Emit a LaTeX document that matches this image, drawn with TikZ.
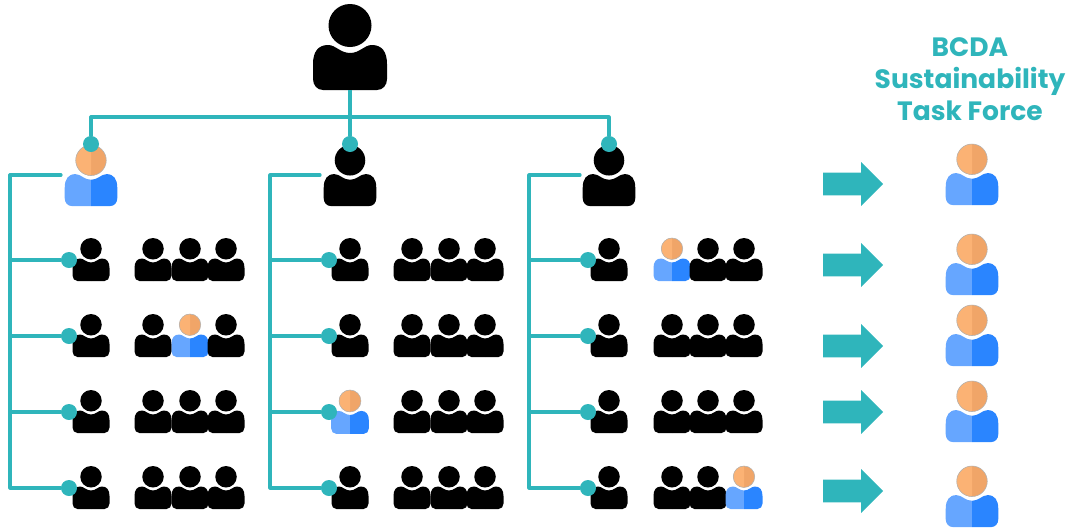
\documentclass[tikz,border=0pt]{standalone}
\usepackage{fontspec}
\setmainfont{Poppins}
\usetikzlibrary{shapes.arrows}
\definecolor{teal1}{HTML}{2FB5BB}
\definecolor{bodyL}{HTML}{66A6FF}
\definecolor{bodyR}{HTML}{2A85FF}
\definecolor{headL}{HTML}{FBB274}
\definecolor{headR}{HTML}{F0A568}
\newcommand{\figurebody}[2]{%
  \fill[#1] (0.2,49) .. controls (-10,49) and (-14,41) .. (-22,41)
    .. controls (-32,41) and (-37,48) .. (-37,60) -- (-37,75)
    .. controls (-37,81) and (-33,86) .. (-27,86) -- (0.2,86) -- cycle;
  \fill[#2] (0,49) .. controls (10,49) and (14,41) .. (22,41)
    .. controls (32,41) and (37,48) .. (37,60) -- (37,75)
    .. controls (37,81) and (33,86) .. (27,86) -- (0,86) -- cycle;}
\tikzset{
  blackperson/.pic={
    \figurebody{black}{black}
    \fill[black] (0,21.5) circle (21.5);
  },
  colorperson/.pic={
    \figurebody{bodyL}{bodyR}
    \fill[headR] (0,21.5) circle (21.5);
    \begin{scope}
      \clip (-25,-2) rectangle (0,45);
      \fill[headL] (0,21.5) circle (21.5);
    \end{scope}
    \draw[black!30,line width=.4pt] (0,21.5) circle (21.5);
  },
  small/.style={scale=.5},
  mid/.style={scale=.71},
  link/.style={draw=teal1,line width=2.4pt,line cap=round,line join=round},
  dot/.style={circle,fill=teal1,inner sep=0pt,minimum size=12pt},
  bigarrow/.style={single arrow,fill=teal1,inner xsep=0pt,inner ysep=8.25pt,
    minimum height=45pt,minimum width=32.5pt,single arrow head extend=8pt,
    single arrow tip angle=90,shape border rotate=0},
  title/.style={text=teal1,font=\fontsize{19.9}{24}\selectfont\bfseries,align=center}
}
\begin{document}
\begin{tikzpicture}[x=.75pt,y=-.75pt]
\useasboundingbox (0,0) rectangle (1080,529);
% head of the organisation
\pic (boss) at (350,4) {blackperson};
\coordinate (bossfoot) at (350,90);
\coordinate (bar) at (350,117);
% managers
\pic[mid] (mgrA) at (91,145) {colorperson};
\pic[mid] (mgrB) at (350,145) {blackperson};
\pic[mid] (mgrC) at (609,145) {blackperson};
% rows of staff
\foreach \c/\gA/\gB/\gC in {A/153/190/226,B/412/449/485,C/672/708/744}{
  \foreach \r/\yy in {1/238,2/314,3/390,4/466}{
    \pgfmathsetmacro{\lead}{\gA-62}
    \ifnum\pdfstrcmp{\c}{C}=0 \pgfmathsetmacro{\lead}{609}\fi
    \ifnum\pdfstrcmp{\c\r}{B3}=0
      \pic[scale=.51] at (\lead,\yy) {colorperson};
    \else
      \pic[small] at (\lead,\yy) {blackperson};
    \fi
    \ifnum\pdfstrcmp{\c\r}{C1}=0
      \pic[small] at (\gA,\yy) {colorperson};
    \else
      \pic[small] at (\gA,\yy) {blackperson};
    \fi
    \ifnum\pdfstrcmp{\c\r}{A2}=0
      \pic[small] at (\gB,\yy) {colorperson};
    \else
      \pic[small] at (\gB,\yy) {blackperson};
    \fi
    \ifnum\pdfstrcmp{\c\r}{C4}=0
      \pic[small] at (\gC,\yy) {colorperson};
    \else
      \pic[small] at (\gC,\yy) {blackperson};
    \fi
  }
}
% dots
\node[dot] (topA) at (91,144) {};
\node[dot] (topB) at (350,144) {};
\node[dot] (topC) at (609,144) {};
\foreach \c/\dx in {A/69,B/329,C/588}{
  \foreach \r/\yy in {1/260,2/336,3/412,4/488}{
    \node[dot] (d\c\r) at (\dx,\yy) {};
  }
}
% connectors
\draw[link,line cap=butt] (bossfoot) -- (bar);
\draw[link] (topA) |- (bar) -| (topC);
\draw[link] (bar) -- (topB);
\foreach \c/\bx/\sx in {A/10/61,B/270/320,C/529/580}{
  \coordinate (stub\c) at (\sx,175);
  \coordinate (corner\c) at (\bx,175);
  \coordinate (foot\c) at (\bx,488);
  \draw[link] (stub\c) -- (corner\c) -- (foot\c) -- (d\c4);
  \foreach \r/\yy in {1/260,2/336,3/412}{
    \coordinate (j\c\r) at (\bx,\yy);
    \draw[link] (j\c\r) -- (d\c\r);
  }
}
% arrows and task force
\foreach \n/\ay/\py in {1/184/144,2/265/234,3/346/305,4/412/381,5/491/466}{
  \node[bigarrow] (arrow\n) at (847.5,\ay) {};
  \pic[scale=.71] (task\n) at (972,\py) {colorperson};
}
\node[title] (head) at (970,79.5) {BCDA\\Sustainability\\Task Force};
\end{tikzpicture}
\end{document}
